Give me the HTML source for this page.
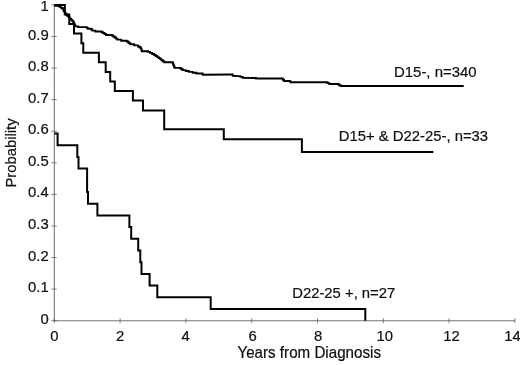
<!DOCTYPE html>
<html><head><meta charset="utf-8"><title>Survival probability</title>
<style>
html,body{margin:0;padding:0;background:#fff}
body{width:520px;height:365px;overflow:hidden}
svg{display:block}
svg text{font-family:"Liberation Sans",sans-serif;font-size:15.3px;fill:#111;stroke:#111;stroke-width:0.22px}
</style></head><body>
<svg width="520" height="365" viewBox="0 0 520 365">
<rect width="520" height="365" fill="#fff"/>
<g stroke="#777" stroke-width="1.1" fill="none">
<path d="M54.3,4.4 V320.7 H514.9"/>
</g>
<path d="M51.3,320.7 h5.5 M51.3,289.1 h5.5 M51.3,257.5 h5.5 M51.3,226.0 h5.5 M51.3,194.4 h5.5 M51.3,162.8 h5.5 M51.3,131.2 h5.5 M51.3,99.6 h5.5 M51.3,68.1 h5.5 M51.3,36.5 h5.5 M51.3,4.9 h5.5 M54.3,318.2 v5 M120.1,318.2 v5 M185.9,318.2 v5 M251.7,318.2 v5 M317.5,318.2 v5 M383.3,318.2 v5 M449.1,318.2 v5 M514.9,318.2 v5" stroke="#555" stroke-width="0.7" fill="none"/>
<g stroke="#000" stroke-width="2" fill="none" stroke-linejoin="miter">
<path d="M54.4,5.7 L58.8,5.7 L58.8,6.3 L60.1,6.3 L60.1,7.1 L61.3,7.1 L61.3,8.0 L62.6,8.0 L62.6,8.8 L63.2,8.8 L63.2,9.9 L63.8,9.9 L63.8,11.0 L64.5,11.0 L64.5,12.1 L65.1,12.1 L65.1,13.2 L65.9,13.2 L65.9,14.3 L66.8,14.3 L66.8,15.3 L67.6,15.3 L67.6,16.4 L68.9,16.4 L68.9,17.6 L70.2,17.6 L70.2,18.9 L71.2,18.9 L71.2,19.9 L72.3,19.9 L72.3,21.0 L73.3,21.0 L73.3,22.0 L73.8,22.0 L73.8,23.1 L74.2,23.1 L74.2,24.2 L74.7,24.2 L74.7,25.3 L75.2,25.3 L75.2,26.4 L78.3,26.4 L78.3,27.1 L85.9,27.1 L86.8,27.1 L86.8,27.9 L87.8,27.9 L87.8,28.7 L90.9,28.7 L90.9,29.2 L92.2,29.2 L92.2,30.6 L95.3,30.6 L95.3,31.5 L100.4,31.5 L101.7,31.5 L101.7,32.2 L102.9,32.2 L102.9,33.0 L104.5,33.0 L104.5,34.0 L106.0,34.0 L106.0,35.0 L111.9,35.0 L111.9,35.5 L113.2,35.5 L113.2,36.5 L114.6,36.5 L114.6,37.5 L116.0,37.5 L116.0,38.6 L117.3,38.6 L117.3,39.6 L121.2,39.6 L121.2,40.7 L126.5,40.7 L126.5,41.2 L127.8,41.2 L127.8,42.2 L129.1,42.2 L129.1,43.2 L130.4,43.2 L130.4,44.2 L134.2,44.2 L134.2,45.4 L138.1,45.4 L138.1,46.5 L139.4,46.5 L139.4,47.3 L140.7,47.3 L140.7,48.1 L141.1,48.1 L141.1,49.1 L141.5,49.1 L141.5,50.2 L141.9,50.2 L141.9,51.2 L148.1,51.2 L148.1,51.9 L150.1,51.9 L150.1,52.9 L152.2,52.9 L152.2,54.0 L154.2,54.0 L154.2,55.0 L155.7,55.0 L155.7,56.0 L157.3,56.0 L157.3,57.1 L158.8,57.1 L158.8,58.1 L160.2,58.1 L160.2,59.1 L161.5,59.1 L161.5,60.2 L162.8,60.2 L162.8,61.2 L164.2,61.2 L164.2,62.2 L172.7,62.2 L172.7,63.2 L173.1,63.2 L173.1,64.1 L173.5,64.1 L173.5,65.1 L173.8,65.1 L173.8,66.0 L174.2,66.0 L174.2,67.0 L174.6,67.0 L174.6,67.9 L180.4,67.9 L180.4,68.5 L181.6,68.5 L181.6,69.3 L182.7,69.3 L182.7,70.1 L185.8,70.1 L185.8,71.0 L188.8,71.0 L188.8,71.9 L192.7,71.9 L192.7,72.7 L196.5,72.7 L196.5,73.5 L202.7,73.5 L202.7,74.7 L230.4,74.5 L232.7,74.5 L232.7,75.8 L238.1,76.1 L240.4,76.1 L240.4,76.9 L242.7,76.9 L242.7,77.8 L255.0,78.0 L256.0,78.0 L256.0,78.5 L281.5,78.5 L282.8,78.5 L282.8,79.8 L284.0,79.8 L284.0,81.0 L290.3,81.0 L290.3,82.2 L325.6,82.2 L327.5,82.2 L327.5,83.1 L329.3,83.1 L329.3,84.0 L338.2,84.0 L338.2,84.5 L339.4,84.5 L339.4,85.2 L340.7,85.2 L340.7,86.0 L463.7,86.0" stroke-width="1.9"/>
<path d="M54.3,4.9 L64.8,4.9 L64.8,14.5 L69.3,14.5 L69.3,24.0 L74.0,24.0 L74.0,33.6 L81.4,33.6 L81.4,43.2 L83.3,43.2 L83.3,52.7 L98.9,52.7 L98.9,62.3 L105.7,62.3 L105.7,71.9 L110.2,71.9 L110.2,81.5 L114.8,81.5 L114.8,91.0 L132.9,91.0 L132.9,100.6 L143.0,100.6 L143.0,110.4 L164.2,110.4 L164.2,129.2 L223.8,129.2 L223.8,139.3 L301.9,139.3 L301.9,152.0 L433.4,152.0 L433.4,152.0"/>
<path d="M54.3,133.6 L57.6,133.6 L57.6,145.3 L77.3,145.3 L77.3,157.0 L78.5,157.0 L78.5,168.6 L87.1,168.6 L87.1,192.0 L88.0,192.0 L88.0,203.7 L97.4,203.7 L97.4,215.4 L129.4,215.4 L129.4,227.1 L131.2,227.1 L131.2,238.8 L138.2,238.8 L138.2,250.5 L140.3,250.5 L140.3,262.2 L141.5,262.2 L141.5,273.9 L149.6,273.9 L149.6,285.6 L157.3,285.6 L157.3,297.3 L210.7,297.3 L210.7,309.0 L365.3,309.0 L365.3,320.7"/>
</g>
<text transform="translate(48.7,323.7) scale(0.97,1)" text-anchor="end">0</text>
<text transform="translate(48.7,292.1) scale(0.97,1)" text-anchor="end">0.1</text>
<text transform="translate(48.7,260.5) scale(0.97,1)" text-anchor="end">0.2</text>
<text transform="translate(48.7,229.0) scale(0.97,1)" text-anchor="end">0.3</text>
<text transform="translate(48.7,197.4) scale(0.97,1)" text-anchor="end">0.4</text>
<text transform="translate(48.7,165.8) scale(0.97,1)" text-anchor="end">0.5</text>
<text transform="translate(48.7,134.2) scale(0.97,1)" text-anchor="end">0.6</text>
<text transform="translate(48.7,102.6) scale(0.97,1)" text-anchor="end">0.7</text>
<text transform="translate(48.7,71.1) scale(0.97,1)" text-anchor="end">0.8</text>
<text transform="translate(48.7,39.5) scale(0.97,1)" text-anchor="end">0.9</text>
<text transform="translate(48.7,11.0) scale(0.97,1)" text-anchor="end">1</text>
<text transform="translate(54.4,341.2) scale(0.97,1)" text-anchor="middle">0</text>
<text transform="translate(120.2,341.2) scale(0.97,1)" text-anchor="middle">2</text>
<text transform="translate(185.7,341.2) scale(0.97,1)" text-anchor="middle">4</text>
<text transform="translate(252.7,341.2) scale(0.97,1)" text-anchor="middle">6</text>
<text transform="translate(318.2,341.2) scale(0.97,1)" text-anchor="middle">8</text>
<text transform="translate(384.7,341.2) scale(0.97,1)" text-anchor="middle">10</text>
<text transform="translate(451.6,341.2) scale(0.97,1)" text-anchor="middle">12</text>
<text transform="translate(512.6,341.2) scale(0.97,1)" text-anchor="middle">14</text>
<text transform="translate(394.0,76.7) scale(0.977,1)" text-anchor="start">D15-, n=340</text>
<text transform="translate(338.8,141.1) scale(0.97,1)" text-anchor="start">D15+ &amp; D22-25-, n=33</text>
<text transform="translate(292.2,297.7) scale(0.97,1)" text-anchor="start">D22-25 +, n=27</text>
<text transform="translate(309.2,358.3) scale(0.948,1)" text-anchor="middle" style="font-size:16px">Years from Diagnosis</text>
<text transform="translate(15.5,153) rotate(-90) scale(0.97,1)" text-anchor="middle">Probability</text>
</svg>
</body></html>
